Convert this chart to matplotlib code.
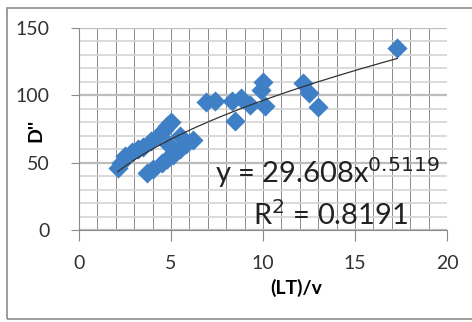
import numpy as np
import matplotlib.pyplot as plt
from matplotlib.patches import Rectangle
from matplotlib.ticker import MultipleLocator

plt.rcParams['font.family'] = ['Lato', 'DejaVu Sans']

# measured points
lt_v = [2.1, 2.3, 2.5, 2.9, 3.2, 3.5, 3.7, 4.0, 3.9, 4.3, 4.6, 4.8, 5.0,
        4.5, 4.8, 5.1, 5.5, 5.8, 6.2, 5.5, 4.9, 6.9, 7.4, 8.3, 8.5, 8.8,
        9.3, 9.9, 10.0, 10.1, 12.2, 12.5, 13.0, 17.3]
d_val = [46, 50, 55, 58, 60, 62, 42, 45, 66, 70, 74, 77, 80,
         50, 53, 56, 60, 64, 67, 70, 63, 95, 96, 96, 81, 98,
         93, 104, 110, 92, 109, 102, 91, 135]

# power-law fit coefficients
coef_a = 29.608
coef_b = 0.5119
r2 = 0.8191

W, H = 472, 322
fig = plt.figure(figsize=(W / 100, H / 100), dpi=100)
ax = fig.add_axes([79 / W, 1 - 230 / H, (447 - 79) / W, (230 - 28) / H])

# chart frame (right side runs off the canvas)
fig.patches.append(Rectangle((7 / W, 3 / H), 470 / W, 311 / H,
                             transform=fig.transFigure, fill=False,
                             edgecolor='#8c8c8c', linewidth=1.2))

ax.scatter(lt_v, d_val, marker='D', s=105, color='#3f7fc6', zorder=3, linewidths=0)

xs = np.linspace(min(lt_v), max(lt_v), 200)
ax.plot(xs, coef_a * xs ** coef_b, color='#333333', linewidth=0.9, zorder=4)

ax.set_xlim(0, 20)
ax.set_ylim(0, 150)
ax.xaxis.set_major_locator(MultipleLocator(5))
ax.xaxis.set_minor_locator(MultipleLocator(1))
ax.yaxis.set_major_locator(MultipleLocator(50))
ax.yaxis.set_minor_locator(MultipleLocator(10))

ax.grid(which='major', axis='y', color='#bdbdbd', linewidth=1.6)
ax.grid(which='minor', axis='y', color='#d4d4d4', linewidth=1.2)
ax.grid(which='both', axis='x', color='#8a8a8a', linewidth=0.7)
ax.set_axisbelow(True)

for s in ['top', 'right']:
    ax.spines[s].set_visible(False)
ax.spines['left'].set_color('#8a8a8a')
ax.spines['bottom'].set_color('#8a8a8a')

ax.tick_params(which='major', axis='x', direction='out', length=8, color='#8a8a8a',
               labelsize=14, pad=10, labelcolor='#333333')
ax.tick_params(which='major', axis='y', direction='out', length=6, color='#8a8a8a',
               labelsize=14, pad=15, labelcolor='#333333')
ax.tick_params(which='minor', length=0)

ax.set_xlabel('(LT)/v', fontsize=14, fontweight='bold')
ax.xaxis.set_label_coords((296 - 79) / 368, (230 - 279) / 202)
ax.set_ylabel("D''", fontsize=14, fontweight='bold')
ax.yaxis.set_label_coords((44 - 79) / 368, (230 - 130) / 202)

eq_text = f'y = {coef_a:.3f}x$^{{{coef_b}}}$'
ax.text(7.4, 43, eq_text, fontsize=21, color='#222222',
        ha='left', va='center', zorder=5)
ax.text(9.45, 11, f'R$^2$ = {r2}', fontsize=21, color='#222222',
        ha='left', va='center', zorder=5)

fig.savefig('out.png', dpi=100)
